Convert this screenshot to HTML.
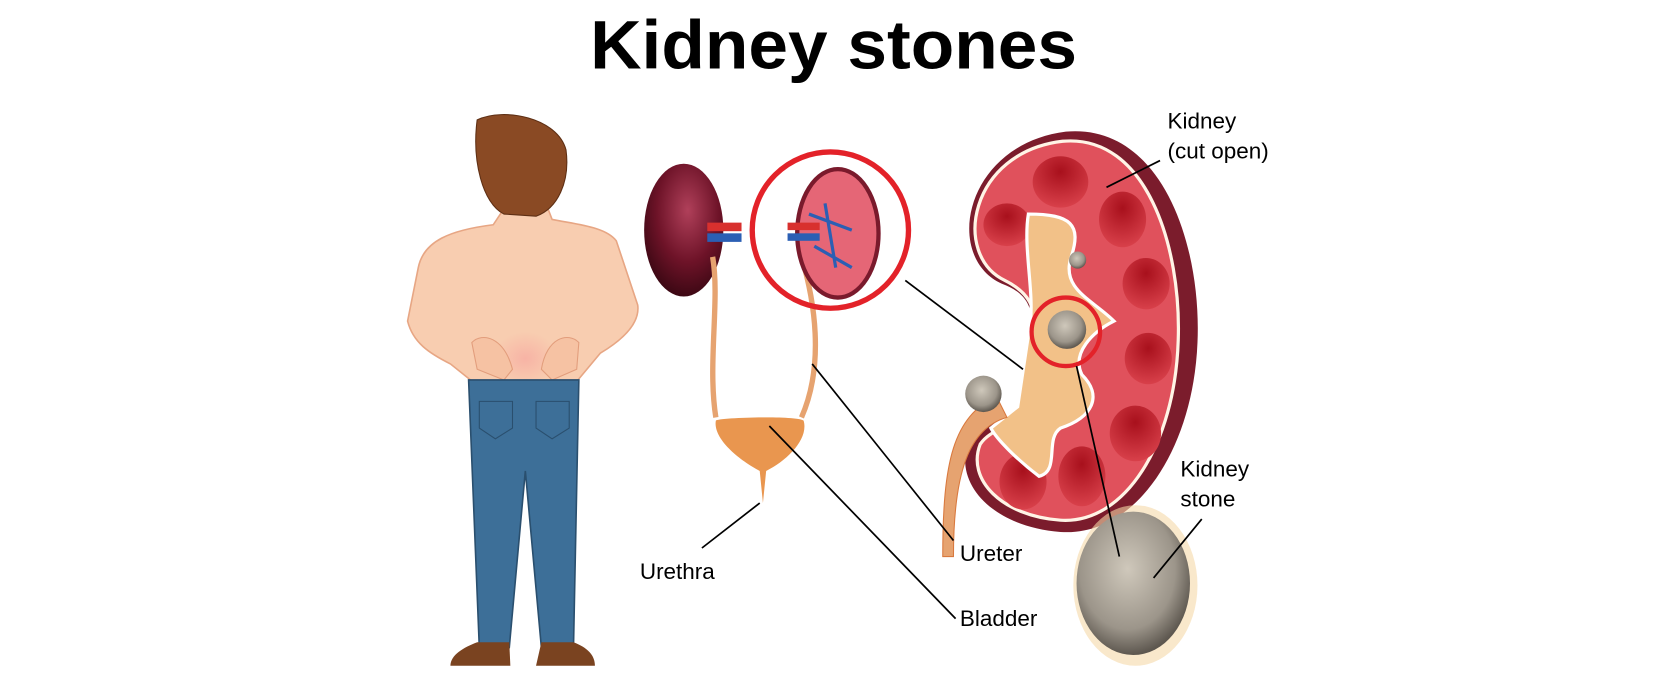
<!DOCTYPE html>
<html><head><meta charset="utf-8"><style>
html,body{margin:0;padding:0;background:#fff;}
svg{display:block;}
text{font-family:"Liberation Sans",sans-serif;}
</style></head><body>
<svg width="1680" height="685" viewBox="0 0 1568 640" xmlns="http://www.w3.org/2000/svg">
<defs>
<radialGradient id="stone" cx="45%" cy="40%" r="60%"><stop offset="0" stop-color="#cfc8bb"/><stop offset="0.7" stop-color="#9c958a"/><stop offset="1" stop-color="#5d574f"/></radialGradient>
<radialGradient id="dk" cx="55%" cy="35%" r="65%"><stop offset="0" stop-color="#b0405a"/><stop offset="0.6" stop-color="#6e1328"/><stop offset="1" stop-color="#3d0814"/></radialGradient>
<radialGradient id="glow" cx="50%" cy="50%" r="50%"><stop offset="0" stop-color="#f7b3a5"/><stop offset="1" stop-color="#f7b3a5" stop-opacity="0"/></radialGradient>
<radialGradient id="pyr" cx="50%" cy="30%" r="70%"><stop offset="0" stop-color="#a8101c"/><stop offset="1" stop-color="#d8404a"/></radialGradient>
</defs>
<text x="778" y="64" text-anchor="middle" font-size="64" font-weight="bold" fill="#000" textLength="455" lengthAdjust="spacingAndGlyphs">Kidney stones</text>

<!-- man -->
<path d="M470,195 L460,210 C420,215 395,225 390,250 L380,300 C385,320 400,330 420,340 L445,360 L535,360 L560,330 C585,315 597,300 595,285 L575,225 C565,212 540,210 515,205 L510,192 Z" fill="#f8cdb0" stroke="#e7a684" stroke-width="1.5"/>
<ellipse cx="490" cy="335" rx="30" ry="25" fill="url(#glow)"/>
<path d="M440,320 C450,310 470,315 478,345 L470,355 L445,345 Z" fill="#f6c2a3" stroke="#e29d7c"/>
<path d="M540,320 C530,310 510,315 505,345 L515,355 L538,345 Z" fill="#f6c2a3" stroke="#e29d7c"/>
<path d="M445,112 C470,100 520,110 528,140 C532,170 520,195 500,202 L470,200 C450,190 440,150 445,112 Z" fill="#8a4a24" stroke="#5e2f14"/>
<path d="M437,355 L540,355 L535,605 L505,605 L490,440 L475,605 L447,605 Z" fill="#3d6f98" stroke="#2a4f6e" stroke-width="1.5"/>
<path d="M447,375 L478,375 L478,400 L462,410 L447,400 Z M500,375 L531,375 L531,400 L515,410 L500,400 Z" fill="none" stroke="#2a4f6e"/>
<path d="M445,600 L475,600 L476,622 L420,622 C420,612 432,605 445,600 Z" fill="#7a4320"/>
<path d="M505,600 L535,600 C548,605 555,612 555,622 L500,622 Z" fill="#7a4320"/>

<!-- small kidneys -->
<ellipse cx="638" cy="215" rx="37" ry="62" fill="url(#dk)"/>
<rect x="660" y="208" width="32" height="8" fill="#d8302e"/><rect x="660" y="218" width="32" height="8" fill="#2b5fb4"/>
<path d="M665,240 C672,280 660,340 668,390" fill="none" stroke="#e6a370" stroke-width="5"/>
<path d="M748,240 C760,280 770,340 748,390" fill="none" stroke="#e6a370" stroke-width="5"/>
<path d="M668,393 C670,390 745,388 750,393 C755,410 735,430 715,440 L712,470 L709,440 C690,430 665,410 668,393 Z" fill="#e9964f"/>
<circle cx="775" cy="215" r="73" fill="none" stroke="#e32229" stroke-width="5"/>
<ellipse cx="782" cy="218" rx="38" ry="60" fill="#e56676" stroke="#7a1a2c" stroke-width="4"/>
<path d="M755,200 L795,215 M760,230 L795,250 M770,190 L780,250" stroke="#2b5fb4" stroke-width="3"/>
<rect x="735" y="208" width="30" height="7" fill="#d8302e"/><rect x="735" y="218" width="30" height="7" fill="#2b5fb4"/>

<!-- big kidney -->
<path d="M935,265 C880,240 900,135 995,123 C1085,115 1122,230 1118,320 C1114,420 1060,502 990,497 C925,492 888,450 905,410 C915,392 938,395 950,380 L962,300 C964,285 955,272 935,265 Z" fill="#7b1c2c"/>
<path d="M938,262 C888,238 905,142 992,132 C1070,125 1103,230 1100,318 C1097,415 1050,490 990,486 C935,482 902,448 915,415 C925,400 945,400 955,385 L965,300 C966,285 958,272 938,262 Z" fill="#e0515c" stroke="#fff4e6" stroke-width="3"/>
<g fill="url(#pyr)">
<ellipse cx="990" cy="170" rx="26" ry="24"/>
<ellipse cx="940" cy="210" rx="22" ry="20"/>
<ellipse cx="1048" cy="205" rx="22" ry="26"/>
<ellipse cx="1070" cy="265" rx="22" ry="24"/>
<ellipse cx="1072" cy="335" rx="22" ry="24"/>
<ellipse cx="1060" cy="405" rx="24" ry="26"/>
<ellipse cx="1010" cy="445" rx="22" ry="28"/>
<ellipse cx="955" cy="450" rx="22" ry="26"/>
</g>
<path d="M960,200 C1000,200 1010,210 1000,240 C990,270 1020,280 1040,300 C1020,310 1000,330 1010,350 C1030,370 1020,390 990,400 C975,410 990,440 970,445 C950,430 930,410 925,400 L950,380 L962,300 C965,270 955,230 960,200 Z" fill="#f2c188" stroke="#fff" stroke-width="3"/>
<path d="M940,390 C905,400 890,440 890,520 L880,520 C880,430 890,390 930,370 Z" fill="#e6a370" stroke="#d9793e"/>
<circle cx="1006" cy="243" r="8" fill="url(#stone)"/>
<circle cx="996" cy="308" r="18" fill="url(#stone)"/>
<circle cx="918" cy="368" r="17" fill="url(#stone)"/>
<circle cx="995" cy="310" r="32" fill="none" stroke="#e32229" stroke-width="4"/>
<ellipse cx="1060" cy="547" rx="58" ry="75" fill="#f5d9a8" opacity="0.6"/>
<ellipse cx="1058" cy="545" rx="53" ry="67" fill="url(#stone)"/>

<!-- leader lines -->
<g stroke="#000" stroke-width="1.6">
<line x1="845" y1="262" x2="955" y2="345"/>
<line x1="1005" y1="342" x2="1045" y2="520"/>
<line x1="1083" y1="150" x2="1033" y2="175"/>
<line x1="1122" y1="485" x2="1077" y2="540"/>
<line x1="758" y1="340" x2="890" y2="505"/>
<line x1="718" y1="398" x2="892" y2="578"/>
<line x1="709" y1="470" x2="655" y2="512"/>
</g>
<g font-size="21" fill="#000">
<text x="1090" y="120">Kidney</text>
<text x="1090" y="148">(cut open)</text>
<text x="1102" y="445">Kidney</text>
<text x="1102" y="473">stone</text>
<text x="896" y="524">Ureter</text>
<text x="597" y="541">Urethra</text>
<text x="896" y="585">Bladder</text>
</g>
</svg>
</body></html>
